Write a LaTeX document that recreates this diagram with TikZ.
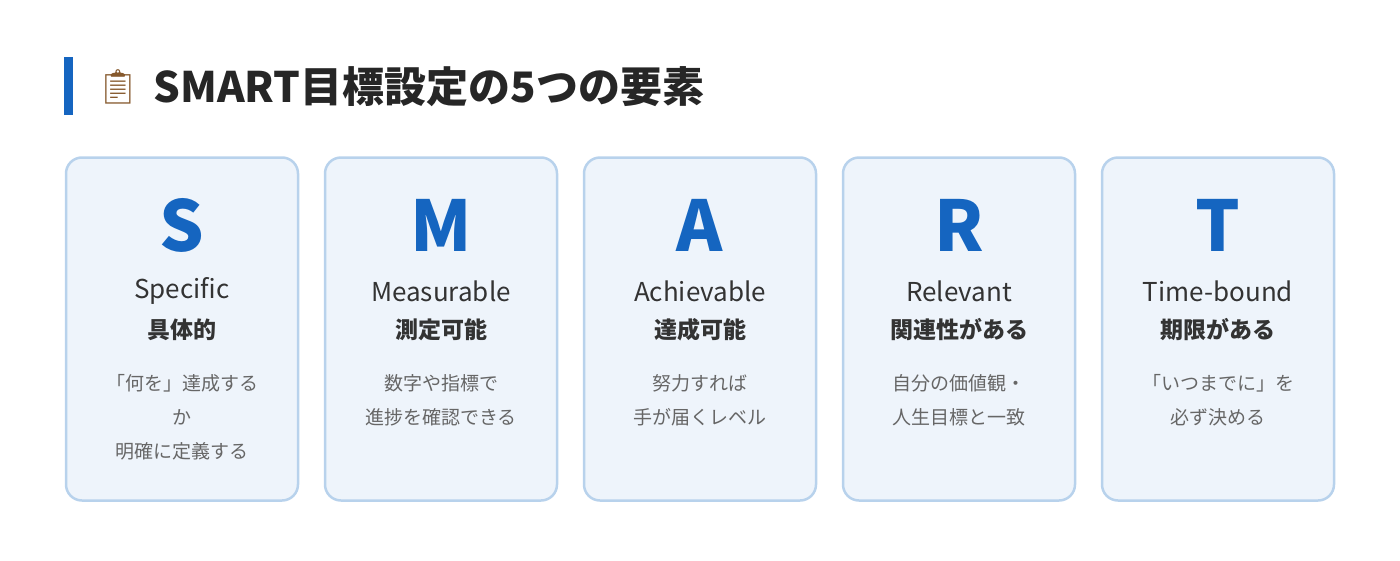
\documentclass[tikz,border=0pt]{standalone}
\usepackage{fontspec}
\setmainfont{Noto Sans CJK JP}
\newfontfamily\emojifont{Noto Emoji}
\usetikzlibrary{positioning}
\definecolor{smartblue}{HTML}{1565C0}
\definecolor{cardfill}{HTML}{EEF4FB}
\definecolor{cardline}{HTML}{B8D2EC}
\definecolor{darktext}{HTML}{333333}
\definecolor{greytext}{HTML}{666666}

\begin{document}
\begin{tikzpicture}[x=1pt, y=-1pt,
            card/.style = {draw=cardline, line width=2.5pt, fill=cardfill, rounded corners=16pt,
                    minimum width=232pt, minimum height=343pt, inner sep=0pt},
            letter/.style = {font=\fontsize{70}{70}\selectfont\bfseries, text=smartblue},
            ename/.style = {font=\fontsize{26}{26}\selectfont, text=darktext},
            jname/.style = {font=\fontsize{23}{23}\selectfont\bfseries, text=darktext},
            desc/.style = {font=\fontsize{19}{34}\selectfont, text=greytext, align=center, anchor=north}
        ]
        \useasboundingbox (0,0) rectangle (1400,560);
        \fill[smartblue] (64,57) rectangle (73,115);
        \node (icon)  [text=brown!70!black] at (118,87) {\emojifont\fontsize{34}{34}\selectfont 📋};
        \node (title) [anchor=west, font=\fontsize{42}{42}\selectfont\bfseries, text=black!85] at (150,87) {SMART目標設定の5つの要素};

        \foreach \x/\l/\e/\j/\d [count=\i] in {
                182/S/Specific/具体的/{「何を」達成する\\か\\明確に定義する},
                441/M/Measurable/測定可能/{数字や指標で\\進捗を確認できる},
                700/A/Achievable/達成可能/{努力すれば\\手が届くレベル},
                959/R/Relevant/関連性がある/{自分の価値観・\\人生目標と一致},
                1218/T/Time-bound/期限がある/{「いつまでに」を\\必ず決める}} {
            \node (card\i)   [card] at (\x,329) {};
            \node (letter\i) [letter] at (\x,225) {\l};
            \node (ename\i)  [ename] at (\x,291) {\e};
            \node (jname\i)  [jname] at (\x,330) {\j};
            \node (desc\i)   [desc] at (\x,371) {\d};
        }
    \end{tikzpicture}
\end{document}
